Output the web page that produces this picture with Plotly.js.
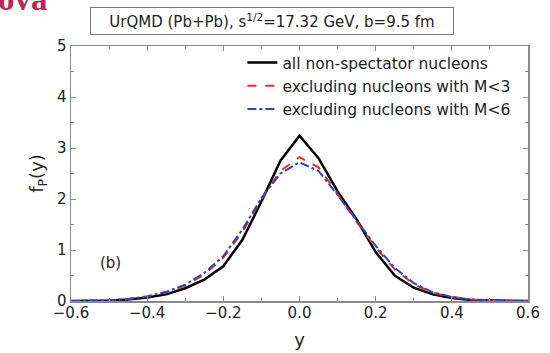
<!DOCTYPE html>
<html>
<head>
<meta charset="utf-8">
<script src="https://cdn.plot.ly/plotly-3.0.1.min.js"></script>
<style>html,body{margin:0;padding:0;background:#fff;}#chart{width:550px;height:353px;}</style>
</head>
<body>
<div id="chart"></div>
<script>
var rapidity = [-0.60,-0.55,-0.50,-0.45,-0.40,-0.35,-0.30,-0.25,-0.20,-0.15,-0.10,-0.05,0.00,0.05,0.10,0.15,0.20,0.25,0.30,0.35,0.40,0.45,0.50,0.55,0.60];
var allNucleons = [0.0,0.0,0.01,0.03,0.07,0.13,0.25,0.42,0.68,1.2,1.95,2.75,3.24,2.8,2.15,1.6,0.96,0.5,0.26,0.13,0.06,0.02,0.01,0.0,0.0];
var exclM3 = [0.0,0.0,0.01,0.04,0.09,0.17,0.30,0.52,0.85,1.35,2.0,2.55,2.82,2.62,2.1,1.55,1.05,0.62,0.33,0.16,0.08,0.03,0.01,0.0,0.0];
var exclM6 = [0.0,0.0,0.01,0.04,0.09,0.18,0.32,0.55,0.88,1.4,2.02,2.5,2.72,2.55,2.08,1.58,1.08,0.65,0.35,0.17,0.08,0.03,0.01,0.0,0.0];
var seriesNames = ['all non-spectator nucleons','excluding nucleons with M<3','excluding nucleons with M<6'];
var xTickVals = [-0.6,-0.4,-0.2,0.0,0.2,0.4,0.6];
var yTickVals = [0,1,2,3,4,5];

var F = 'DejaVu Sans, Arial, sans-serif';
var traces = [
  {x: rapidity, y: allNucleons, name: seriesNames[0], mode: 'lines', line: {color: '#000000', width: 2.5}},
  {x: rapidity, y: exclM3, name: seriesNames[1], mode: 'lines', line: {color: '#e0302a', width: 2, dash: 'dash'}},
  {x: rapidity, y: exclM6, name: seriesNames[2], mode: 'lines', line: {color: '#3245b8', width: 2, dash: 'dashdot'}}
];
var axisCommon = {
  showgrid: false, zeroline: false, showline: true, linecolor: '#8a8a8a', linewidth: 1.5,
  mirror: 'ticks', ticks: 'inside', ticklen: 5, tickcolor: '#8a8a8a', tickwidth: 1,
  tickfont: {family: F, size: 15, color: '#222'}
};
var layout = {
  width: 550, height: 353,
  margin: {l: 71, r: 22, t: 46, b: 52},
  paper_bgcolor: '#fff', plot_bgcolor: '#fff',
  showlegend: true,
  legend: {x: 0.375, y: 1.0, xanchor: 'left', yanchor: 'top', bgcolor: 'rgba(0,0,0,0)',
           font: {family: F, size: 15.5, color: '#222'}, tracegroupgap: 0},
  xaxis: Object.assign({}, axisCommon, {range: [-0.6, 0.6], tickvals: xTickVals, tickformat: '.1f',
          ticklabelstandoff: -3,
          minor: {dtick: 0.1, ticks: 'inside', ticklen: 3, tickcolor: '#8a8a8a'},
          title: {text: 'y', font: {family: F, size: 18, color: '#222'}, standoff: 13}}),
  yaxis: Object.assign({}, axisCommon, {range: [0, 5], tickvals: yTickVals,
          minor: {dtick: 0.5, ticks: 'inside', ticklen: 3, tickcolor: '#8a8a8a'},
          title: {text: 'f<sub>P</sub>(y)', font: {family: F, size: 18, color: '#222'}, standoff: 8}}),
  annotations: [
    {xref: 'paper', yref: 'paper', x: 0.44, y: 1.098, xanchor: 'center', yanchor: 'middle', showarrow: false,
     text: 'UrQMD (Pb+Pb), s<sup>1/2</sup>=17.32 GeV, b=9.5 fm', font: {family: F, size: 15, color: '#222'},
     width: 358, height: 22, bordercolor: '#777', borderwidth: 1, borderpad: 2, bgcolor: '#fff'},
    {xref: 'x', yref: 'y', x: -0.53, y: 0.75, xanchor: 'left', yanchor: 'middle', showarrow: false,
     text: '(b)', font: {family: F, size: 15, color: '#222'}},
    {xref: 'paper', yref: 'paper', x: -0.165, y: 1.106, xanchor: 'left', yanchor: 'bottom', showarrow: false,
     text: '<b>ova</b>', font: {family: 'Liberation Serif, Times New Roman, serif', size: 33, color: '#b52a55'}}
  ]
};
Plotly.newPlot('chart', traces, layout, {displayModeBar: false, staticPlot: true});
</script>
</body>
</html>
